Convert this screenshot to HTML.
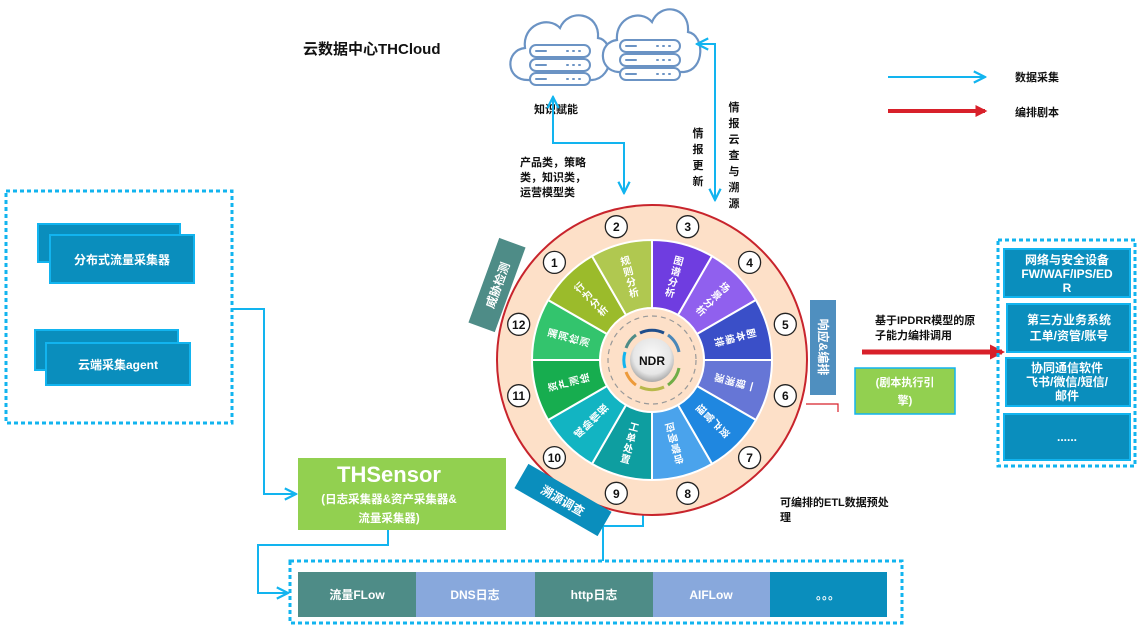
<!DOCTYPE html>
<html><head><meta charset="utf-8"><style>
body{margin:0;background:#fff;}
svg{display:block;font-family:"Liberation Sans","Noto Sans CJK SC",sans-serif;}
</style></head><body>
<svg width="1137" height="627" viewBox="0 0 1137 627" xmlns="http://www.w3.org/2000/svg">
<defs>
<marker id="ab" viewBox="0 0 10 10" refX="9" refY="5" markerWidth="7" markerHeight="7" orient="auto-start-reverse"><path d="M1 1 L9 5 L1 9" fill="none" stroke="#12b4ef" stroke-width="1.6"/></marker>
<marker id="ar" viewBox="0 0 10 10" refX="8" refY="5" markerWidth="3" markerHeight="3" orient="auto"><path d="M0 0 L10 5 L0 10 Z" fill="#d8202a"/></marker>
<radialGradient id="ndr" cx="50%" cy="40%" r="60%"><stop offset="0" stop-color="#fafafa"/><stop offset="0.7" stop-color="#e6e6e6"/><stop offset="1" stop-color="#a9a9a9"/></radialGradient>
</defs>

<text x="303" y="54" font-size="15" font-weight="bold" fill="#111">云数据中心THCloud</text>

<g fill="#fff" stroke="#6b93c4" stroke-width="2.2">
<path d="M528 80 C505 80 505 50 525 48 C522 25 548 15 560 28 C568 8 600 12 598 38 C615 40 615 78 592 80 Z"/>
<path d="M618 72 C598 70 598 42 617 40 C615 18 640 8 652 22 C660 2 690 6 688 32 C705 35 705 70 684 72 Z"/>
</g>
<g fill="#fff" stroke="#6b93c4" stroke-width="2">
<rect x="530" y="45" width="60" height="12" rx="6"/><rect x="530" y="59" width="60" height="12" rx="6"/><rect x="530" y="73" width="60" height="12" rx="6"/>
<rect x="620" y="40" width="60" height="12" rx="6"/><rect x="620" y="54" width="60" height="12" rx="6"/><rect x="620" y="68" width="60" height="12" rx="6"/>
</g>
<g stroke="#6b93c4" stroke-width="2" stroke-linecap="round">
<path d="M536 51h10M536 65h10M536 79h10M626 46h10M626 60h10M626 74h10"/>
<path d="M567 51h1M573 51h1M579 51h1M567 65h1M573 65h1M579 65h1M567 79h1M573 79h1M579 79h1M657 46h1M663 46h1M669 46h1M657 60h1M663 60h1M669 60h1M657 74h1M663 74h1M669 74h1"/>
</g>
<text x="534" y="113" font-size="11" font-weight="bold" fill="#111">知识赋能</text>

<path d="M553 97 V143 H624 V193" fill="none" stroke="#12b4ef" stroke-width="2" marker-start="url(#ab)" marker-end="url(#ab)"/>
<path d="M697 44 H715 V200" fill="none" stroke="#12b4ef" stroke-width="2" marker-start="url(#ab)" marker-end="url(#ab)"/>
<g font-size="11" font-weight="bold" fill="#111">
<text x="520" y="166">产品类，策略</text><text x="520" y="181">类，知识类，</text><text x="520" y="196">运营模型类</text>
</g>
<g font-size="11" font-weight="bold" fill="#111" text-anchor="middle">
<text x="698" y="137">情</text><text x="698" y="153">报</text><text x="698" y="169">更</text><text x="698" y="185">新</text>
<text x="734" y="111">情</text><text x="734" y="127">报</text><text x="734" y="143">云</text><text x="734" y="159">查</text><text x="734" y="175">与</text><text x="734" y="191">溯</text><text x="734" y="207">源</text>
</g>

<line x1="888" y1="77" x2="985" y2="77" stroke="#12b4ef" stroke-width="2" marker-end="url(#ab)"/>
<text x="1015" y="81" font-size="11" font-weight="bold" fill="#111">数据采集</text>
<line x1="888" y1="111" x2="985" y2="111" stroke="#d8202a" stroke-width="4" marker-end="url(#ar)"/>
<text x="1015" y="116" font-size="11" font-weight="bold" fill="#111">编排剧本</text>

<rect x="6" y="191" width="226" height="232" fill="none" stroke="#12b4ef" stroke-width="3" stroke-dasharray="4 3"/>
<rect x="38" y="224" width="142" height="38" fill="#0a8ebd" stroke="#12b4ef" stroke-width="2"/>
<rect x="50" y="235" width="144" height="48" fill="#0a8ebd" stroke="#12b4ef" stroke-width="2"/>
<text x="122" y="264" font-size="12" font-weight="bold" fill="#fff" text-anchor="middle">分布式流量采集器</text>
<rect x="35" y="330" width="143" height="40" fill="#0a8ebd" stroke="#12b4ef" stroke-width="2"/>
<rect x="46" y="343" width="144" height="42" fill="#0a8ebd" stroke="#12b4ef" stroke-width="2"/>
<text x="118" y="369" font-size="12" font-weight="bold" fill="#fff" text-anchor="middle">云端采集agent</text>

<path d="M232 309 H264 V494 H296" fill="none" stroke="#12b4ef" stroke-width="2" marker-end="url(#ab)"/>

<rect x="298" y="458" width="208" height="72" fill="#92d050"/>
<text x="389" y="482" font-size="22" font-weight="bold" fill="#fff" text-anchor="middle">THSensor</text>
<text x="389" y="503" font-size="11.5" font-weight="bold" fill="#fff" text-anchor="middle">(日志采集器&amp;资产采集器&amp;</text>
<text x="389" y="522" font-size="11.5" font-weight="bold" fill="#fff" text-anchor="middle">流量采集器)</text>
<path d="M388 530 V545 H258 V593 H288" fill="none" stroke="#12b4ef" stroke-width="2" marker-end="url(#ab)"/>

<rect x="290" y="561" width="612" height="62" fill="none" stroke="#12b4ef" stroke-width="3" stroke-dasharray="4 3"/>
<rect x="298" y="572" width="118" height="45" fill="#4e8c87"/>
<rect x="416" y="572" width="119" height="45" fill="#88a8dc"/>
<rect x="535" y="572" width="118" height="45" fill="#4e8c87"/>
<rect x="653" y="572" width="117" height="45" fill="#88a8dc"/>
<rect x="770" y="572" width="117" height="45" fill="#0a8ebd"/>
<g font-size="12" font-weight="bold" fill="#fff" text-anchor="middle">
<text x="357" y="599">流量FLow</text><text x="475" y="599">DNS日志</text><text x="594" y="599">http日志</text><text x="711" y="599">AIFLow</text><text x="828" y="599">。。。</text>
</g>
<path d="M603 561 V526 H643 V490" fill="none" stroke="#12b4ef" stroke-width="2" marker-end="url(#ab)"/>

<circle cx="652" cy="360" r="155" fill="#fde0c8" stroke="#c8242c" stroke-width="2"/>
<g stroke="#fff" stroke-width="2">
<path d="M652 308 L652 240 A120 120 0 0 1 712 256.1 L678 315 A52 52 0 0 0 652 308Z" fill="#6f3de0"/>
<path d="M678 315 L712 256.1 A120 120 0 0 1 755.9 300 L697 334 A52 52 0 0 0 678 315Z" fill="#9060ee"/>
<path d="M697 334 L755.9 300 A120 120 0 0 1 772 360 L704 360 A52 52 0 0 0 697 334Z" fill="#3a4fc8"/>
<path d="M704 360 L772 360 A120 120 0 0 1 755.9 420 L697 386 A52 52 0 0 0 704 360Z" fill="#6676d6"/>
<path d="M697 386 L755.9 420 A120 120 0 0 1 712 463.9 L678 405 A52 52 0 0 0 697 386Z" fill="#1f87e0"/>
<path d="M678 405 L712 463.9 A120 120 0 0 1 652 480 L652 412 A52 52 0 0 0 678 405Z" fill="#4aa3ec"/>
<path d="M652 412 L652 480 A120 120 0 0 1 592 463.9 L626 405 A52 52 0 0 0 652 412Z" fill="#0e9ea0"/>
<path d="M626 405 L592 463.9 A120 120 0 0 1 548.1 420 L607 386 A52 52 0 0 0 626 405Z" fill="#12b4c2"/>
<path d="M607 386 L548.1 420 A120 120 0 0 1 532 360 L600 360 A52 52 0 0 0 607 386Z" fill="#17ad4f"/>
<path d="M600 360 L532 360 A120 120 0 0 1 548.1 300 L607 334 A52 52 0 0 0 600 360Z" fill="#33c46d"/>
<path d="M607 334 L548.1 300 A120 120 0 0 1 592 256.1 L626 315 A52 52 0 0 0 607 334Z" fill="#9bbb2b"/>
<path d="M626 315 L592 256.1 A120 120 0 0 1 652 240 L652 308 A52 52 0 0 0 626 315Z" fill="#b0c850"/>
</g>
<circle cx="652" cy="360" r="44" fill="none" stroke="#999" stroke-width="1.2" stroke-dasharray="5 4"/>
<g fill="none" stroke-width="3">
<path d="M640 333 A28 28 0 0 1 664 333" stroke="#1f4e8c"/>
<path d="M668 335 A28 28 0 0 1 679 352" stroke="#4a87b8"/>
<path d="M679 368 A28 28 0 0 1 668 385" stroke="#70ad47"/>
<path d="M664 387 A28 28 0 0 1 640 387" stroke="#b8b84a"/>
<path d="M636 385 A28 28 0 0 1 626 372" stroke="#ed9a3a"/>
<path d="M625 368 A28 28 0 0 1 625 352" stroke="#12b4ef"/>
<path d="M626 348 A28 28 0 0 1 636 335" stroke="#4e8c87"/>
</g>
<circle cx="652" cy="360" r="22" fill="url(#ndr)"/>
<text x="652" y="365" font-size="12" font-weight="bold" fill="#111" text-anchor="middle">NDR</text>

<g font-size="10" font-weight="bold" fill="#fff" text-anchor="middle">
<g transform="translate(674.3 276.9) rotate(15)"><text y="-13">图</text><text y="-2">谱</text><text y="9">分</text><text y="20">析</text></g>
<g transform="translate(712.8 299.2) rotate(45)"><text y="-13">场</text><text y="-2">景</text><text y="9">分</text><text y="20">析</text></g>
<g transform="translate(735.1 337.7) rotate(75)"><text y="-13">剧</text><text y="-2">本</text><text y="9">编</text><text y="20">排</text></g>
<g transform="translate(735.1 382.3) rotate(105)"><text y="-13">一</text><text y="-2">键</text><text y="9">溯</text><text y="20">源</text></g>
<g transform="translate(712.8 420.8) rotate(135)"><text y="-13">资</text><text y="-2">产</text><text y="9">管</text><text y="20">理</text></g>
<g transform="translate(674.3 443.1) rotate(165)"><text y="-13">告</text><text y="-2">警</text><text y="9">响</text><text y="20">应</text></g>
<g transform="translate(629.7 443.1) rotate(15)"><text y="-13">工</text><text y="-2">单</text><text y="9">处</text><text y="20">置</text></g>
<g transform="translate(591.2 420.8) rotate(-135)"><text y="-13">威</text><text y="-2">胁</text><text y="9">情</text><text y="20">报</text></g>
<g transform="translate(568.9 382.3) rotate(-105)"><text y="-13">资</text><text y="-2">产</text><text y="9">测</text><text y="20">绘</text></g>
<g transform="translate(568.9 337.7) rotate(-75)"><text y="-13">漏</text><text y="-2">洞</text><text y="9">检</text><text y="20">测</text></g>
<g transform="translate(591.2 299.2) rotate(-45)"><text y="-13">行</text><text y="-2">为</text><text y="9">分</text><text y="20">析</text></g>
<g transform="translate(629.7 276.9) rotate(-15)"><text y="-13">规</text><text y="-2">则</text><text y="9">分</text><text y="20">析</text></g>
</g>

<g fill="#fff" stroke="#222" stroke-width="1.3">
<circle cx="687.7" cy="226.7" r="11"/><circle cx="749.6" cy="262.4" r="11"/><circle cx="785.3" cy="324.3" r="11"/><circle cx="785.3" cy="395.7" r="11"/><circle cx="749.6" cy="457.6" r="11"/><circle cx="687.7" cy="493.3" r="11"/><circle cx="616.3" cy="493.3" r="11"/><circle cx="554.4" cy="457.6" r="11"/><circle cx="518.7" cy="395.7" r="11"/><circle cx="518.7" cy="324.3" r="11"/><circle cx="554.4" cy="262.4" r="11"/><circle cx="616.3" cy="226.7" r="11"/>
</g>
<g font-size="12" font-weight="bold" fill="#111" text-anchor="middle">
<text x="687.7" y="231">3</text><text x="749.6" y="267">4</text><text x="785.3" y="329">5</text><text x="785.3" y="400">6</text><text x="749.6" y="462">7</text><text x="687.7" y="498">8</text><text x="616.3" y="498">9</text><text x="554.4" y="462">10</text><text x="518.7" y="400">11</text><text x="518.7" y="329">12</text><text x="554.4" y="267">1</text><text x="616.3" y="231">2</text>
</g>

<g transform="rotate(-70 497 285)">
<rect x="452" y="271" width="90" height="28" fill="#4e8c87"/>
<text x="497" y="290" font-size="12" font-weight="bold" fill="#fff" text-anchor="middle">威胁检测</text>
</g>
<g transform="rotate(30 563 500)">
<rect x="515" y="486" width="96" height="28" fill="#0a8ebd"/>
<text x="563" y="505" font-size="12" font-weight="bold" fill="#fff" text-anchor="middle">溯源调查</text>
</g>

<rect x="810" y="300" width="26" height="95" fill="#4f8fbf"/>
<g transform="translate(823 347) rotate(90)">
<text x="0" y="4" font-size="12" font-weight="bold" fill="#fff" text-anchor="middle">响应&amp;编排</text>
</g>
<path d="M806 404 H838 V412" fill="none" stroke="#d8202a" stroke-width="1.2"/>
<rect x="855" y="368" width="100" height="46" fill="#92d050" stroke="#12b4ef" stroke-width="1.5"/>
<text x="905" y="386" font-size="11" font-weight="bold" fill="#fff" text-anchor="middle">(剧本执行引</text>
<text x="905" y="404" font-size="11" font-weight="bold" fill="#fff" text-anchor="middle">擎)</text>
<text x="875" y="324" font-size="11" font-weight="bold" fill="#111">基于IPDRR模型的原</text>
<text x="875" y="339" font-size="11" font-weight="bold" fill="#111">子能力编排调用</text>
<line x1="862" y1="352" x2="1002" y2="352" stroke="#d8202a" stroke-width="5" marker-end="url(#ar)"/>
<text x="780" y="506" font-size="11" font-weight="bold" fill="#111">可编排的ETL数据预处</text>
<text x="780" y="521" font-size="11" font-weight="bold" fill="#111">理</text>

<rect x="998" y="240" width="137" height="226" fill="none" stroke="#12b4ef" stroke-width="3" stroke-dasharray="4 3"/>
<rect x="1004" y="249" width="126" height="48" fill="#0a8ebd" stroke="#12b4ef" stroke-width="2"/>
<rect x="1007" y="304" width="123" height="48" fill="#0a8ebd" stroke="#12b4ef" stroke-width="2"/>
<rect x="1006" y="358" width="124" height="48" fill="#0a8ebd" stroke="#12b4ef" stroke-width="2"/>
<rect x="1004" y="414" width="126" height="46" fill="#0a8ebd" stroke="#12b4ef" stroke-width="2"/>
<g font-size="12" font-weight="bold" fill="#fff" text-anchor="middle">
<text x="1067" y="264">网络与安全设备</text><text x="1067" y="278">FW/WAF/IPS/ED</text><text x="1067" y="292">R</text>
<text x="1069" y="324">第三方业务系统</text><text x="1069" y="340">工单/资管/账号</text>
<text x="1067" y="372">协同通信软件</text><text x="1067" y="386">飞书/微信/短信/</text><text x="1067" y="400">邮件</text>
<text x="1067" y="441">......</text>
</g>
</svg>
</body></html>
